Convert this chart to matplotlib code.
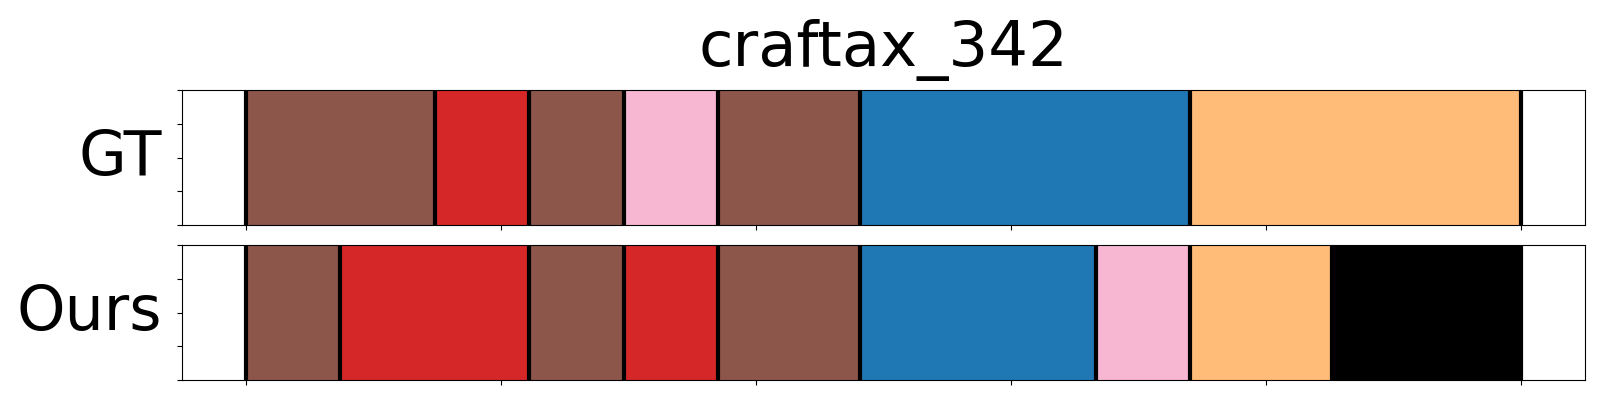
import matplotlib
matplotlib.use('Agg')
import matplotlib.pyplot as plt

# segment boundaries, in frames (video length 27), and the class of each segment
n_frames = 27
gt_bounds = [0, 4, 6, 8, 10, 13, 20, 27]
gt_classes = [5, 3, 5, 13, 5, 0, 2]
ours_bounds = [0, 2, 6, 8, 10, 13, 18, 20, 23, 27]
ours_classes = [5, 3, 5, 3, 5, 0, 13, 2, -1]

# class -> colour (tab20 style), -1 is background / unknown
class_colors = {0: '#1f77b4', 2: '#ffbb78', 3: '#d62728', 5: '#8c564b',
                13: '#f7b6d2', -1: '#000000'}

row_names = ['GT', 'Ours']
title = 'craftax_342'


def drawSegments(ax, bounds, classes):
    for i, c in enumerate(classes):
        start = bounds[i] / n_frames
        end = bounds[i + 1] / n_frames
        ax.axvspan(start, end, ymin=0, ymax=1, facecolor=class_colors[c],
                   edgecolor=class_colors[c], lw=0.5)
    for b in bounds:
        ax.axvline(b / n_frames, color='black', lw=3)
    ax.set_xlim(-0.05, 1.05)
    ax.set_ylim(0, 1)
    ax.set_xticks([0, 0.2, 0.4, 0.6, 0.8, 1.0])
    ax.set_xticklabels([])
    ax.set_yticks([0, 0.25, 0.5, 0.75, 1.0])
    ax.set_yticklabels([])


fig = plt.figure(figsize=(16, 4), dpi=100)
ax1 = fig.add_axes([0.1136, 0.4375, 0.877, 0.3365])
ax2 = fig.add_axes([0.1136, 0.05, 0.877, 0.3365])

drawSegments(ax1, gt_bounds, gt_classes)
drawSegments(ax2, ours_bounds, ours_classes)

for ax, name in zip([ax1, ax2], row_names):
    ax.set_ylabel(name, fontsize=44.5, rotation=0, ha='right', va='center', labelpad=7.5)

ax1.set_title(title, fontsize=45, pad=17.5)

plt.savefig('out.png')
plt.close('all')
